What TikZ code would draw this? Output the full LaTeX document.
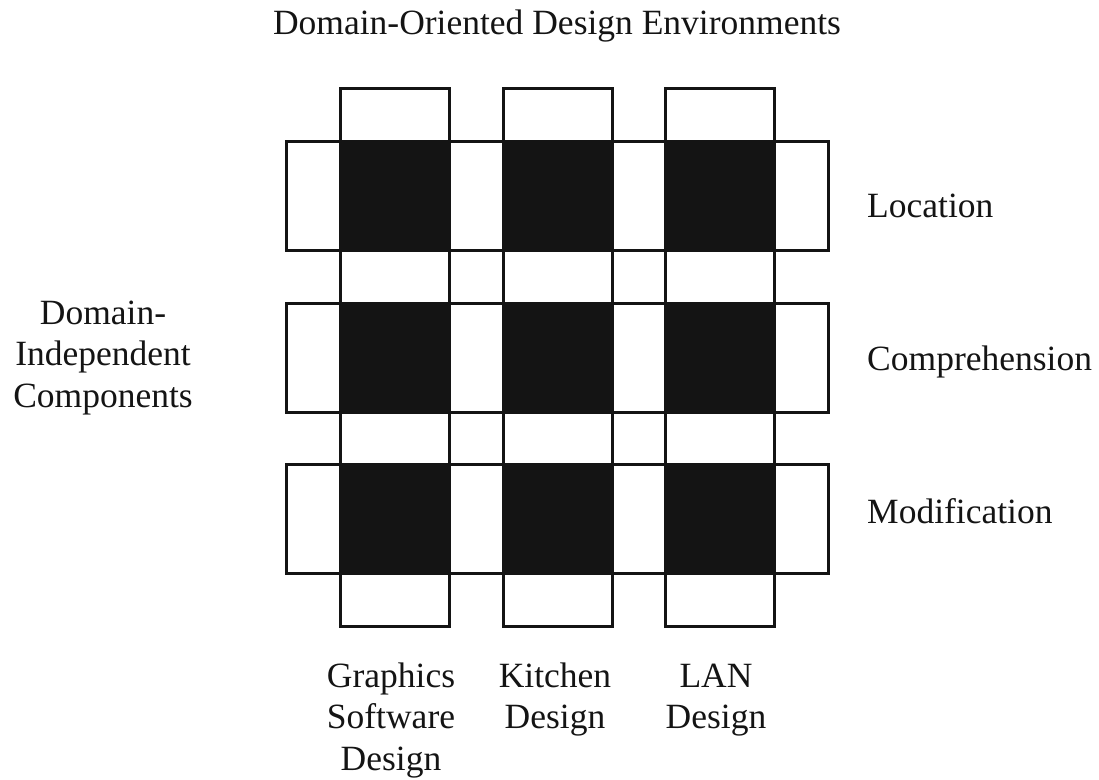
\documentclass[tikz,border=0pt]{standalone}
\usepackage{fontspec}
\setmainfont{Liberation Serif}
\begin{document}
\begin{tikzpicture}[x=1pt,y=-1pt,
  ink/.style={black!92},
  strip/.style={draw=black!92, line width=3pt, inner sep=0pt, outer sep=0pt},
  cell/.style={draw=black!92, fill=black!92, line width=3pt, inner sep=0pt,
               minimum width=109pt, minimum height=109pt},
  lab/.style={font=\fontsize{35.5}{41.5}\selectfont, text=black!92, inner sep=0pt}]
\useasboundingbox (0,0) rectangle (1099,779);

% vertical strips: one per design environment
\node[strip, minimum width=109pt, minimum height=538pt] (colA) at (395,357) {};
\node[strip, minimum width=109pt, minimum height=538pt] (colB) at (557.5,357) {};
\node[strip, minimum width=109pt, minimum height=538pt] (colC) at (720,357) {};

% horizontal strips: one per domain-independent component
\node[strip, minimum width=542pt, minimum height=109pt] (rowA) at (557,195.5) {};
\node[strip, minimum width=542pt, minimum height=109pt] (rowB) at (557,357.5) {};
\node[strip, minimum width=542pt, minimum height=109pt] (rowC) at (557,518.5) {};

% filled crossings
\foreach \c/\cx in {A/395,B/557.5,C/720}
  \foreach \r/\ry in {A/195.5,B/357.5,C/518.5}
    \node[cell] (cell\c\r) at (\cx,\ry) {};

% labels
\node[lab, anchor=base] (title) at (557,34) {Domain-Oriented Design Environments};
\node[lab, anchor=base] (dic) at (103,324)
  {\begin{tabular}[t]{@{}c@{}}Domain-\\Independent\\Components\end{tabular}};
\node[lab, anchor=base west] (loc) at (867,217) {Location};
\node[lab, anchor=base west] (comp) at (867,370) {Comprehension};
\node[lab, anchor=base west] (mod) at (867,523) {Modification};
\node[lab, anchor=base] (gsd) at (391,687)
  {\begin{tabular}[t]{@{}c@{}}Graphics\\Software\\Design\end{tabular}};
\node[lab, anchor=base] (kd) at (555,687)
  {\begin{tabular}[t]{@{}c@{}}Kitchen\\Design\end{tabular}};
\node[lab, anchor=base] (lan) at (716,687)
  {\begin{tabular}[t]{@{}c@{}}LAN\\Design\end{tabular}};
\end{tikzpicture}
\end{document}
